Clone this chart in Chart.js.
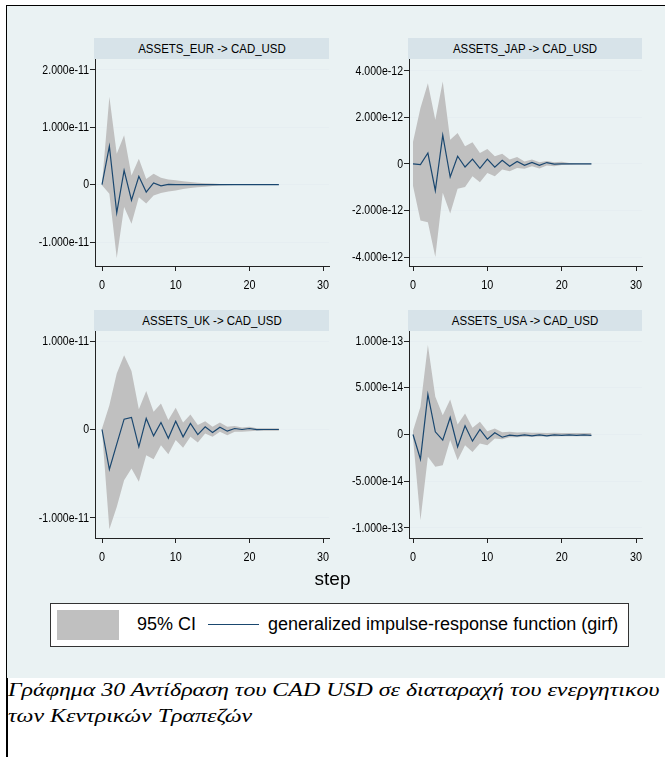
<!DOCTYPE html>
<html lang="el">
<head>
  <meta charset="UTF-8">
  <title>GIRF CAD_USD</title>
  <script src="https://cdn.jsdelivr.net/npm/chart.js"></script>
  <style>
    body { margin: 0; background: #fff; }
    #page { position: relative; width: 665px; height: 757px; overflow: hidden; background: #fff; }
    .rule { position: absolute; background: #000; }
    #graph { position: absolute; left: 7px; top: 6px; width: 658px; height: 672px; background: #eaf2f3; }
    .bar { position: absolute; height: 21px; background: #d7e3e9; color: #000;
           font: 13.5px 'Liberation Sans', Arial, sans-serif; line-height: 21px; }
    .bar span { position: absolute; left: 50%; top: 0; white-space: nowrap; transform: translateX(-50%) scaleX(0.85); }
    .box { position: absolute; }
    #step { position: absolute; left: 0; width: 665px; top: 568px; text-align: center;
            font: 19px 'Liberation Sans', Arial, sans-serif; color: #000; }
    #legend { position: absolute; left: 50px; top: 603px; width: 577px; height: 42px; background: #fff;
              border: 1px solid #333; font: 18px 'Liberation Sans', Arial, sans-serif; color: #000; }
    #legend .sw { position: absolute; left: 6px; top: 6px; width: 62px; height: 30px; background: #c0c0c0; }
    #legend .ln { position: absolute; left: 157px; top: 20px; width: 51px; height: 0; border-top: 1.5px solid #1a476f; }
    #legend span { position: absolute; top: 10px; white-space: nowrap; }
    .cap { position: absolute; left: 8px; white-space: nowrap; transform-origin: 0 0; transform: scaleX(1.33);
           font: italic 18px 'Liberation Serif', 'Times New Roman', serif; color: #000; }
  </style>
</head>
<body>
<div id="page">
  <div class="rule" style="left:6px; top:5px; width:659px; height:1px;"></div>
  <div class="rule" style="left:6px; top:5px; width:1px; height:673px;"></div>
  <div class="rule" style="left:6px; top:678px; width:2px; height:79px;"></div>
  <div id="graph"></div>

  <div class="bar" style="left:94px; top:38px; width:235px;"><span>ASSETS_EUR -&gt; CAD_USD</span></div>
  <div class="bar" style="left:408px; top:38px; width:234px;"><span>ASSETS_JAP -&gt; CAD_USD</span></div>
  <div class="bar" style="left:94px; top:310px; width:235px;"><span>ASSETS_UK -&gt; CAD_USD</span></div>
  <div class="bar" style="left:408px; top:310px; width:234px;"><span>ASSETS_USA -&gt; CAD_USD</span></div>

  <div class="box" style="left:10px; top:59px; width:325px; height:241px;"><canvas id="cEur"></canvas></div>
  <div class="box" style="left:330px; top:59px; width:318px; height:241px;"><canvas id="cJap"></canvas></div>
  <div class="box" style="left:10px; top:331px; width:325px; height:241px;"><canvas id="cUk"></canvas></div>
  <div class="box" style="left:330px; top:331px; width:318px; height:241px;"><canvas id="cUsa"></canvas></div>

  <div id="step">step</div>
  <div id="legend">
    <div class="sw"></div>
    <span style="left:86px;">95% CI</span>
    <div class="ln"></div>
    <span style="left:217px;">generalized impulse-response function (girf)</span>
  </div>

  <div class="cap" style="top:680px;">Γράφημα 30 Αντίδραση του CAD USD σε διαταραχή του ενεργητικου</div>
  <div class="cap" style="top:706px;">των Κεντρικών Τραπεζών</div>
</div>

<script>
  const steps = [0,1,2,3,4,5,6,7,8,9,10,11,12,13,14,15,16,17,18,19,20,21,22,23,24];
  const xTicks = [0, 10, 20, 30];
  const xLabels = ['0', '10', '20', '30'];

  // ASSETS_EUR -> CAD_USD
  const eurIrf = [0, 6.7e-12, -4.9e-12, 2.5e-12, -2.7e-12, 1.45e-12, -1.3e-12, 0.3e-12, -0.2e-12, 0.05e-12,
                  0, 0, 0, 0, 0, 0, 0, 0, 0, 0, 0, 0, 0, 0, 0];
  const eurUp  = [0.1e-12, 15.3e-12, 5.4e-12, 8.6e-12, 1.6e-12, 4.5e-12, 1.0e-12, 1.9e-12, 1.2e-12, 0.9e-12,
                  0.75e-12, 0.6e-12, 0.45e-12, 0.35e-12, 0.25e-12, 0.2e-12, 0.12e-12, 0.08e-12, 0.05e-12, 0.03e-12,
                  0.02e-12, 0, 0, 0, 0];
  const eurLo  = [-0.1e-12, -1.6e-12, -12.8e-12, -3.9e-12, -6.8e-12, -2.2e-12, -3.3e-12, -1.9e-12, -1.45e-12, -1.2e-12,
                  -1.0e-12, -0.76e-12, -0.6e-12, -0.45e-12, -0.35e-12, -0.25e-12, -0.15e-12, -0.1e-12, -0.06e-12, -0.04e-12,
                  -0.02e-12, 0, 0, 0, 0];
  const eurTicks = [-1e-11, 0, 1e-11, 2e-11];
  const eurLabels = ['-1.000e-11', '0', '1.000e-11', '2.000e-11'];

  // ASSETS_JAP -> CAD_USD
  const japIrf = [0, -0.03e-12, 0.47e-12, -1.14e-12, 1.24e-12, -0.56e-12, 0.33e-12, -0.13e-12, 0.21e-12, -0.19e-12,
                  0.21e-12, -0.14e-12, 0.16e-12, -0.1e-12, 0.11e-12, -0.06e-12, 0.07e-12, -0.06e-12, 0.06e-12, -0.01e-12,
                  0, 0, 0, 0, 0];
  const japUp  = [0.95e-12, 2.4e-12, 3.47e-12, 1.9e-12, 3.54e-12, 1.04e-12, 1.33e-12, 0.76e-12, 0.93e-12, 0.47e-12,
                  0.64e-12, 0.33e-12, 0.44e-12, 0.19e-12, 0.3e-12, 0.11e-12, 0.19e-12, 0.07e-12, 0.13e-12, 0.07e-12,
                  0.1e-12, 0.04e-12, 0.03e-12, 0.02e-12, 0.02e-12];
  const japLo  = [-0.95e-12, -2.43e-12, -2.5e-12, -4.0e-12, -1.24e-12, -2.13e-12, -1.07e-12, -0.99e-12, -0.53e-12, -0.79e-12,
                  -0.39e-12, -0.53e-12, -0.24e-12, -0.31e-12, -0.17e-12, -0.21e-12, -0.1e-12, -0.19e-12, -0.07e-12, -0.1e-12,
                  -0.04e-12, -0.03e-12, -0.02e-12, -0.02e-12, -0.02e-12];
  const japTicks = [-4e-12, -2e-12, 0, 2e-12, 4e-12];
  const japLabels = ['-4.000e-12', '-2.000e-12', '0', '2.000e-12', '4.000e-12'];

  // ASSETS_UK -> CAD_USD
  const ukIrf = [0, -4.5e-12, -1.66e-12, 1.17e-12, 1.36e-12, -1.96e-12, 1.25e-12, -0.72e-12, 0.79e-12, -1.0e-12,
                 0.94e-12, -0.83e-12, 0.68e-12, -0.57e-12, 0.3e-12, -0.34e-12, 0.26e-12, -0.19e-12, 0.11e-12, 0,
                 0.11e-12, -0.02e-12, 0, 0, 0];
  const ukUp  = [0.1e-12, 2.75e-12, 6.34e-12, 8.4e-12, 6.6e-12, 2.3e-12, 4.34e-12, 2.0e-12, 2.94e-12, 1.06e-12,
                 2.45e-12, 0.8e-12, 1.7e-12, 0.5e-12, 0.94e-12, 0.3e-12, 0.8e-12, 0.3e-12, 0.4e-12, 0.23e-12,
                 0.3e-12, 0.15e-12, 0.15e-12, 0.15e-12, 0.15e-12];
  const ukLo  = [-0.1e-12, -11.28e-12, -8.75e-12, -5.74e-12, -4.4e-12, -5.9e-12, -2.9e-12, -3.36e-12, -1.77e-12, -2.8e-12,
                 -1.2e-12, -2.07e-12, -0.83e-12, -1.47e-12, -0.45e-12, -0.83e-12, -0.26e-12, -0.64e-12, -0.26e-12, -0.26e-12,
                 -0.19e-12, -0.15e-12, -0.15e-12, -0.15e-12, -0.15e-12];
  const ukTicks = [-1e-11, 0, 1e-11];
  const ukLabels = ['-1.000e-11', '0', '1.000e-11'];

  // ASSETS_USA -> CAD_USD
  const usaIrf = [0, -2.64e-14, 4.29e-14, 0.29e-14, -0.6e-14, 1.82e-14, -1.32e-14, 0.93e-14, -0.71e-14, 0.54e-14,
                  -0.5e-14, 0.18e-14, -0.29e-14, -0.07e-14, -0.14e-14, -0.04e-14, -0.14e-14, -0.04e-14, -0.14e-14, -0.04e-14,
                  -0.1e-14, -0.04e-14, -0.1e-14, -0.04e-14, -0.1e-14];
  const usaUp  = [0.4e-14, 2.96e-14, 9.57e-14, 4.04e-14, 2.07e-14, 3.75e-14, 1.07e-14, 2.25e-14, 0.71e-14, 1.36e-14,
                  0.36e-14, 0.64e-14, 0.25e-14, 0.3e-14, 0.22e-14, 0.25e-14, 0.18e-14, 0.2e-14, 0.16e-14, 0.18e-14,
                  0.15e-14, 0.16e-14, 0.15e-14, 0.15e-14, 0.15e-14];
  const usaLo  = [-0.4e-14, -9.18e-14, -2.39e-14, -3.46e-14, -3.29e-14, -0.6e-14, -2.75e-14, -1.14e-14, -1.86e-14, -0.96e-14,
                  -1.14e-14, -0.43e-14, -0.5e-14, -0.29e-14, -0.29e-14, -0.25e-14, -0.25e-14, -0.22e-14, -0.22e-14, -0.22e-14,
                  -0.2e-14, -0.2e-14, -0.2e-14, -0.2e-14, -0.2e-14];
  const usaTicks = [-1e-13, -5e-14, 0, 5e-14, 1e-13];
  const usaLabels = ['-1.000e-13', '-5.000e-14', '0', '5.000e-14', '1.000e-13'];

  const pts = arr => steps.map((s, i) => ({ x: s, y: arr[i] }));

  // Stata's axis labels are narrow, so draw them horizontally squeezed
  const narrowLabels = {
    id: 'narrowLabels',
    afterDraw(chart, args, opts) {
      const ctx = chart.ctx;
      const xs = chart.scales.x, ys = chart.scales.y;
      ctx.save();
      ctx.fillStyle = '#000';
      ctx.font = "13.5px 'Liberation Sans', Arial, sans-serif";
      ctx.textBaseline = 'middle';
      ctx.textAlign = 'right';
      opts.yTicks.forEach((v, i) => {
        ctx.save();
        ctx.translate(ys.right - 6, ys.getPixelForValue(v));
        ctx.scale(0.78, 1);
        ctx.fillText(opts.yLabels[i], 0, 0);
        ctx.restore();
      });
      ctx.textAlign = 'center';
      xTicks.forEach((v, i) => {
        ctx.save();
        ctx.translate(xs.getPixelForValue(v), xs.top + 19);
        ctx.scale(0.8, 1);
        ctx.fillText(xLabels[i], 0, 0);
        ctx.restore();
      });
      ctx.restore();
    }
  };

  function panel(id, irf, up, lo, yMin, yMax, yTicks, yLabels, xMin, yAxisW) {
    return new Chart(document.getElementById(id), {
      type: 'line',
      data: {
        datasets: [
          { data: pts(irf), borderColor: '#1a476f', borderWidth: 1.2, pointRadius: 0, fill: false, order: 0, tension: 0 },
          { data: pts(up), borderWidth: 0, borderColor: 'rgba(0,0,0,0)', backgroundColor: '#c0c0c0',
            pointRadius: 0, fill: '+1', order: 1, tension: 0 },
          { data: pts(lo), borderWidth: 0, borderColor: 'rgba(0,0,0,0)', pointRadius: 0, fill: false, order: 1, tension: 0 }
        ]
      },
      plugins: [narrowLabels],
      options: {
        responsive: true,
        maintainAspectRatio: false,
        animation: false,
        events: [],
        layout: { padding: { top: 0, right: 6, bottom: 0, left: 0 } },
        plugins: {
          legend: { display: false }, tooltip: { enabled: false }, title: { display: false },
          narrowLabels: { yTicks: yTicks, yLabels: yLabels }
        },
        scales: {
          x: {
            type: 'linear', min: xMin, max: 30.8,
            afterBuildTicks: s => { s.ticks = xTicks.map(v => ({ value: v })); },
            afterFit: s => { s.height = 34; },
            grid: { drawOnChartArea: false, tickLength: 5, tickColor: '#222' },
            border: { color: '#222', width: 1 },
            ticks: { display: false }
          },
          y: {
            min: yMin, max: yMax,
            afterBuildTicks: s => { s.ticks = yTicks.map(v => ({ value: v })); },
            afterFit: s => { s.width = yAxisW; },
            grid: { color: '#e6eef1', tickLength: 5, tickColor: '#222' },
            border: { color: '#222', width: 1 },
            ticks: { display: false }
          }
        }
      }
    });
  }

  panel('cEur', eurIrf, eurUp, eurLo, -1.418e-11, 2.19e-11, eurTicks, eurLabels, -0.95, 85);
  panel('cJap', japIrf, japUp, japLo, -4.385e-12, 4.51e-12, japTicks, japLabels, -0.54, 79);
  panel('cUk', ukIrf, ukUp, ukLo, -1.226e-11, 1.113e-11, ukTicks, ukLabels, -0.95, 85);
  panel('cUsa', usaIrf, usaUp, usaLo, -1.107e-13, 1.107e-13, usaTicks, usaLabels, -0.54, 79);
</script>
</body>
</html>
